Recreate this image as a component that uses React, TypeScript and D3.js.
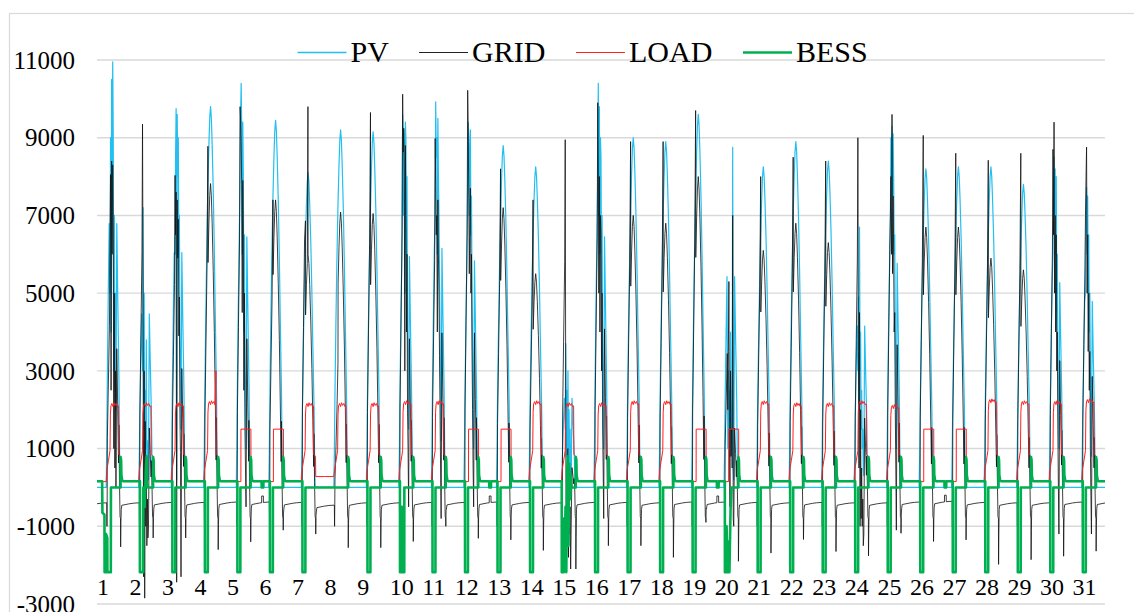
import React from 'react';
import * as d3 from 'd3';

const W = 1134;
const H = 612;

// ---------- tick labels ----------
const dayLabels = ['1','2','3','4','5','6','7','8','9','10','11','12','13','14','15','16','17','18','19','20','21','22','23','24','25','26','27','28','29','30','31'];
const yTickValues = [11000, 9000, 7000, 5000, 3000, 1000, -1000, -3000];
const seriesNames = ['PV', 'GRID', 'LOAD', 'BESS'];

// ---------- per-day values ----------
const pvPeak = [10950, 7200, 9750, 9800, 10400, 9450, 8100, 9200, 9150, 9580, 9925, 9400, 8800, 8250, 3700, 10400, 9000, 8900, 9600, 8750, 8250, 8900, 8400, 6700, 9300, 8200, 8250, 8250, 7800, 8500, 7720];
const gridPeak = [6400, 9350, 8030, 8780, 9800, 7400, 9800, 7100, 9650, 10120, 8980, 10220, 8200, 7400, 8950, 9900, 8900, 8900, 9700, 5300, 8000, 8500, 8400, 9000, 9600, 9060, 8600, 8420, 8600, 9400, 8760];
const gridPeakHour = [9.85, 9.85, 9.85, 9.85, 9.85, 9.85, 11.7, 9.85, 9.85, 9.85, 9.85, 9.85, 9.85, 9.85, 9.85, 9.85, 9.85, 9.85, 9.85, 9.85, 9.85, 9.85, 9.85, 9.85, 9.85, 9.85, 9.85, 9.85, 9.85, 9.85, 9.85];
const gridMid = [7000, 3000, 6000, 7820, 7500, 7400, 6000, 7085, 7050, 7500, 7800, 7800, 7200, 5500, 1000, 8000, 7000, 6800, 8000, 3000, 6100, 6800, 6300, 3500, 7200, 6700, 6700, 5900, 5600, 6400, 5600];
const gridEve = [-1530, -1300, -1300, -1600, -1400, -1100, -1200, -1550, -1550, -1390, -1000, -1310, -1350, -1620, -2100, -1500, -1500, -1800, -900, -1900, -1690, -1340, -1650, -1760, -1180, -1390, -1350, -1980, -1860, -1770, -1640];
const gridNight = [-420, -420, -410, -410, -400, -400, -410, -480, -420, -420, -410, -410, -400, -410, -420, -410, -410, -420, -400, -400, -410, -420, -410, -420, -420, -400, -380, -410, -420, -420, -400];
const gridMorning = -1000;
const loadPeak = [2100, 2100, 2100, 2150, 1500, 1500, 2100, 2100, 2100, 2150, 2150, 1500, 1500, 2150, 2100, 2100, 2150, 2150, 1500, 1500, 2150, 2100, 2100, 2150, 2050, 1500, 1500, 2200, 2150, 2150, 2200];
const loadEnd = [2100, 2100, 2100, 3000, 1500, 1500, 2100, 2100, 2100, 2150, 2150, 1500, 1500, 2150, 2100, 2100, 2150, 2150, 1500, 1500, 2150, 2100, 2100, 2150, 2050, 1500, 1500, 2200, 2150, 2150, 2200];
const loadNight = [150, 150, 150, 150, 150, 150, 150, 280, 150, 150, 150, 150, 150, 150, 150, 150, 150, 150, 150, 150, 150, 150, 150, 150, 150, 150, 150, 150, 150, 150, 150];
const dayType = ['w','w','w','w','s','u','w','w','w','w','w','s','u','w','w','w','w','w','s','u','w','w','w','w','w','s','u','w','w','w','w'];
const bessNight = [160, 160, 160, 160, 160, 160, 160, 0, 160, 160, 160, 160, 160, 160, 160, 160, 160, 160, 160, 160, 160, 160, 160, 160, 160, 160, 160, 160, 160, 160, 160];
const hasDip = [1,1,1,1,1,1,1,0,1,1,1,1,1,1,1,1,1,1,1,1,1,1,1,1,1,1,1,1,1,1,1];
const hasEve = [1,1,1,1,1,1,0,1,1,1,1,1,1,1,1,1,1,1,1,1,1,1,1,1,1,1,1,1,1,1,1];
const bessLow = -2180;

// ---------- daily profile shapes (hour of day) ----------
const pvHours = [6.8, 7.2, 7.6, 8.3, 9.0, 9.8, 10.6, 11.2, 11.8, 12.4, 13.0, 13.8, 14.6, 15.3, 16.2, 16.6, 17.0];
const pvShape = [0, 0.1, 0.25, 0.45, 0.62, 0.78, 0.9, 0.97, 1.0, 0.97, 0.9, 0.78, 0.62, 0.45, 0.25, 0.1, 0];
const gridMidHours = [9.95, 10.6, 11.2, 11.8, 12.4, 13.0, 13.8, 14.6, 15.3, 15.9, 16.1, 16.6];
const gridMidShape = [0.74, 0.87, 0.96, 1, 0.96, 0.87, 0.71, 0.51, 0.29, 0.09, 0.23, 0.02];
const loadWiggleHours = [11, 11.8, 12.5, 13.3, 14.2, 15];
const loadWiggle = [60, -20, 80, 10, 60, -20];

// ---------- cloudy days: midday values ----------
const cloudHours = [9.6, 10.0, 10.4, 10.8, 11.2, 11.6, 12.0, 12.4, 12.8, 13.2, 13.6, 14.0];
const cloudDays = [1, 2, 3, 5, 10, 11, 12, 15, 16, 20, 24, 25, 30, 31];
const cloudPV = [
  [5000, 9000, 4000, 10500, 8000, 10950, 9000, 3000, 7000, 2500, 5000, 2000],
  [3000, 7200, 1500, 5000, 800, 2500, 1000, 3800, 600, 1200, 400, 200],
  [6000, 8500, 9750, 200, 9600, 8000, 9000, 6000, 7000, 4000, 3000, 1500],
  [8000, 9500, 10400, 9300, 6000, 9400, 8000, 4000, 6500, 3000, 2000, 1000],
  [9580, 7000, 9200, 8800, 5000, 9400, 9000, 6000, 8000, 4000, 3000, 1500],
  [7000, 9925, 8500, 9000, 6000, 9500, 8000, 7000, 5500, 4000, 2500, 1200],
  [8000, 9400, 9000, 7000, 8500, 9200, 6500, 7500, 5000, 3500, 2000, 1000],
  [1500, 3700, 800, 2500, 600, 3000, 1000, 2000, 500, 1500, 300, 200],
  [8000, 10400, 7000, 9800, 6000, 9000, 8500, 5000, 7000, 3500, 2500, 1000],
  [1000, 3000, 1500, 2500, 800, 4000, 1500, 2000, 1500, 8750, 500, 200],
  [3000, 4900, 2000, 6700, 3000, 4000, 1500, 2500, 1000, 1500, 500, 300],
  [7000, 9000, 8000, 9300, 7500, 9100, 8000, 6000, 6500, 4000, 2500, 1000],
  [6000, 7500, 8500, 7000, 8200, 6000, 8000, 5000, 6000, 3500, 2000, 1000],
  [5000, 7000, 7720, 6000, 7500, 5000, 6500, 4000, 5000, 3000, 1500, 800],
];
const cloudGrid = [
  [6400, 8050, 2500, 8400, 6000, 8300, 6500, 1000, 5000, 500, 3000, 0],
  [9350, 5000, -2300, 3000, -2850, 1700, -1000, 500, -1500, -300, -1300, -1000],
  [8030, 6500, 7600, -2440, 7400, 5900, 6900, 3900, 4900, 1900, 900, -2300],
  [9800, 9450, 8900, 7800, 4500, 7900, 6500, 2500, 5000, 1500, 500, -500],
  [10120, 8630, 9245, 8000, 3000, 8800, 7000, 4000, 6000, 2000, 1000, -500],
  [8980, 7800, 6500, 7000, 4000, 7400, 6000, 5000, 3400, 2000, 500, -800],
  [10220, 9200, 7500, 5500, 7000, 7700, 5000, 6000, 3500, 2000, 500, -500],
  [8950, 1500, -2000, 500, -1500, 1000, -1800, 0, -1200, -500, -2100, -1000],
  [9900, 8300, 5000, 8000, 4000, 7000, 6500, 3000, 5000, 1500, 500, -800],
  [2000, 3500, 5300, 1000, -500, 3000, 800, 1500, 500, 7000, -800, -1000],
  [9000, 3500, 500, 4500, -1000, 2000, -800, 500, -1000, -300, -1500, -1200],
  [7000, 8000, 6000, 9600, 5500, 7500, 6000, 4000, 4500, 2000, 500, -1100],
  [8700, 6500, 9400, 5000, 7000, 4000, 6500, 3000, 4000, 1500, 0, -1200],
  [7000, 8000, 8760, 5000, 6500, 3500, 5000, 2500, 3500, 1000, -200, -1200],
];

// ---------- irregular BESS mornings ----------
const bessExtraDays = [1, 2, 10, 15, 20];
const bessExtra: [number, number][][] = [
  [[3.8, 160], [4.0, -650], [5.5, -700], [5.6, -2180], [6.6, -2180], [6.7, -1200], [7.6, -1300], [7.7, -2180], [10.2, -2180], [10.3, 0]],
  [[7.7, 160], [7.75, -2180], [10.1, -2180], [10.2, 0], [11.2, -500], [12.0, 400], [12.6, 800], [13.0, 100], [13.6, 0]],
  [[7.6, 160], [7.65, -2180], [8.8, -2180], [9.0, -500], [9.3, -2180], [10.8, -2180], [10.85, 0]],
  [[7.0, 160], [7.05, -2180], [8.5, -2180], [8.6, -800], [9.2, -2000], [9.8, -500], [10.4, -2180], [11.0, 400], [11.5, 800], [12.0, -1500], [12.6, 600], [13.2, -300], [13.8, 300], [14.3, 0]],
  [[7.4, 160], [7.45, -2180], [8.6, -2180], [8.7, -1000], [9.4, -2180], [10.2, -1400], [10.8, -2180], [11.6, -600], [12.4, 0]],
];

type P = [number, number];

function buildSeries() {
  const pv: P[] = [];
  const grid: P[] = [];
  const load: P[] = [];
  const bess: P[] = [];
  const inWin = (h: number) => h >= 9.4 && h <= 14.2;
  const sortAdd = (target: P[], t0: number, pts: P[]) => {
    pts.sort((a, b) => a[0] - b[0]);
    pts.forEach(([h, v]) => target.push([t0 + h, v]));
  };
  for (let i = 0; i < 31; i++) {
    const t0 = i * 24;
    const nx = Math.min(i + 1, 30);
    const ci = cloudDays.indexOf(i + 1);
    const cloudy = ci >= 0;
    const sun = dayType[i] === 'u';
    const weekend = dayType[i] !== 'w';

    // PV
    let p: P[] = [[0, 0]];
    pvHours.forEach((h, k) => p.push([h, pvShape[k] * pvPeak[i]]));
    if (cloudy) {
      p = p.filter(([h]) => !inWin(h));
      cloudHours.forEach((h, k) => p.push([h, cloudPV[ci][k]]));
    }
    p.push([24, 0]);
    sortAdd(pv, t0, p);

    // GRID
    const gp = gridPeak[i], gm = gridMid[i], ge = gridEve[i], gn = gridNight[i], gnn = gridNight[nx];
    const sh = gridPeakHour[i];
    let g: P[] = [[0, gn], [3.2, gn + 15], [7.2, gn + 25], [7.35, gridMorning], [7.5, gn + 40]];
    if (sun) g.push([1.5, gn + 5], [1.55, gn + 180], [2.8, gn + 180], [2.85, gn + 10]);
    if (hasDip[i]) g.push([7.65, 0.2 * gp], [8.4, 0.42 * gp], [9.2, 0.65 * gp], [9.85, sh === 9.85 ? gp : 0.7 * gp]);
    else g.push([7.65, 0.03 * gm], [8.4, 0.15 * gm], [9.2, 0.3 * gm], [9.85, 0.45 * gm]);
    gridMidHours.forEach((h, k) => g.push([h, gridMidShape[k] * gm]));
    if (sh !== 9.85) g.push([sh, gp]);
    g.push([17.0, -750], [17.35, -800], [17.45, ge], [17.65, 0.6 * ge], [17.9, gnn - 150], [18.3, gnn - 40], [24, gnn]);
    if (cloudy) {
      g = g.filter(([h]) => !inWin(h));
      cloudHours.forEach((h, k) => g.push([h, cloudGrid[ci][k]]));
    }
    sortAdd(grid, t0, g);

    // LOAD
    const lp = loadPeak[i], le = loadEnd[i], ln = loadNight[i], lnn = loadNight[nx];
    let l: P[];
    if (weekend) {
      l = [[0, ln], [10.2, ln], [10.25, lp], [17.6, lp], [17.65, lnn], [24, lnn]];
    } else {
      l = [[0, ln], [6.8, ln], [7.3, 450], [8.5, 700], [9.6, 950], [9.9, 0.9 * lp], [10.3, lp]];
      loadWiggleHours.forEach((h, k) => l.push([h, lp + loadWiggle[k]]));
      l.push([15.8, le], [16.0, 850], [17.3, 800], [17.45, lnn], [24, lnn]);
    }
    sortAdd(load, t0, l);

    // BESS
    const bn = bessNight[i], bnn = bessNight[nx];
    let b: P[] = [[0, bn]];
    if (sun) b.push([1.5, bn], [1.55, 0], [2.8, 0], [2.85, bn]);
    if (hasDip[i]) b.push([7.6, bn], [7.65, bessLow], [9.8, bessLow], [9.85, 0]);
    if (hasEve[i]) b.push([17.4, 0], [17.45, 780], [17.8, 700], [18.0, 320], [18.6, 180], [19.5, bnn], [24, bnn]);
    else b.push([24, 0]);
    const bi = bessExtraDays.indexOf(i + 1);
    if (bi >= 0) {
      const ex = bessExtra[bi];
      const lo = ex[0][0], hi = ex[ex.length - 1][0];
      b = b.filter(([h]) => h < lo || h > hi);
      ex.forEach((pt) => b.push([pt[0], pt[1]]));
    }
    sortAdd(bess, t0, b);
  }
  return { pv, grid, load, bess };
}

const FONT = '"Liberation Serif", "Times New Roman", Times, serif';
const seriesColor = ['#22BFF0', '#222222', '#FF2020', '#00B050'];
const legendWidth = [1.4, 1.1, 1.1, 2.6];
const legendLineX = [297.5, 419, 576, 743];

export default function App() {
  const { pv, grid, load, bess } = buildSeries();
  const x = d3.scaleLinear().domain([0, 31 * 24]).range([97, 1105]);
  const y = d3.scaleLinear().domain([-3000, 11000]).range([604, 60]);
  const line = d3.line<P>().x((d) => x(d[0])).y((d) => y(d[1]));

  return (
    <div style={{ position: 'absolute', left: 0, top: 0, width: W, height: H, background: '#fff' }}>
      <svg width={W} height={H} style={{ display: 'block' }}>
        <rect x={0} y={0} width={W} height={H} fill="#ffffff" />
        <rect x={9.5} y={13.5} width={W + 40} height={H + 40} fill="none" stroke="#D9D9D9" strokeWidth={1.2} />
        {yTickValues.map((v) => (
          <line key={'g' + v} x1={97} x2={1105} y1={y(v)} y2={y(v)} stroke="#D9D9D9" strokeWidth={1.4} />
        ))}
        {yTickValues.map((v) => (
          <text key={'t' + v} x={75} y={y(v)} dy="0.35em" textAnchor="end" fontFamily={FONT} fontSize={25} fill="#000">
            {v}
          </text>
        ))}
        <path d={line(pv) || ''} fill="none" stroke={seriesColor[0]} strokeWidth={1.2} strokeLinejoin="round" />
        <path d={line(grid) || ''} fill="none" stroke="#111111" strokeOpacity={0.8} strokeWidth={1} strokeLinejoin="round" />
        <path d={line(load) || ''} fill="none" stroke={seriesColor[2]} strokeWidth={1} strokeLinejoin="round" />
        <path d={line(bess) || ''} fill="none" stroke={seriesColor[3]} strokeWidth={2.6} strokeLinejoin="round" />
        {dayLabels.map((lab, i) => (
          <text key={'d' + lab} x={x(i * 24)} y={595} textAnchor="start" fontFamily={FONT} fontSize={24} fill="#000">
            {lab}
          </text>
        ))}
        {seriesNames.map((name, k) => (
          <g key={name}>
            <line x1={legendLineX[k]} x2={legendLineX[k] + 49} y1={52.5} y2={52.5} stroke={seriesColor[k]} strokeWidth={legendWidth[k]} />
            <text x={legendLineX[k] + 53} y={62} fontFamily={FONT} fontSize={30} fill="#000">
              {name}
            </text>
          </g>
        ))}
      </svg>
    </div>
  );
}
